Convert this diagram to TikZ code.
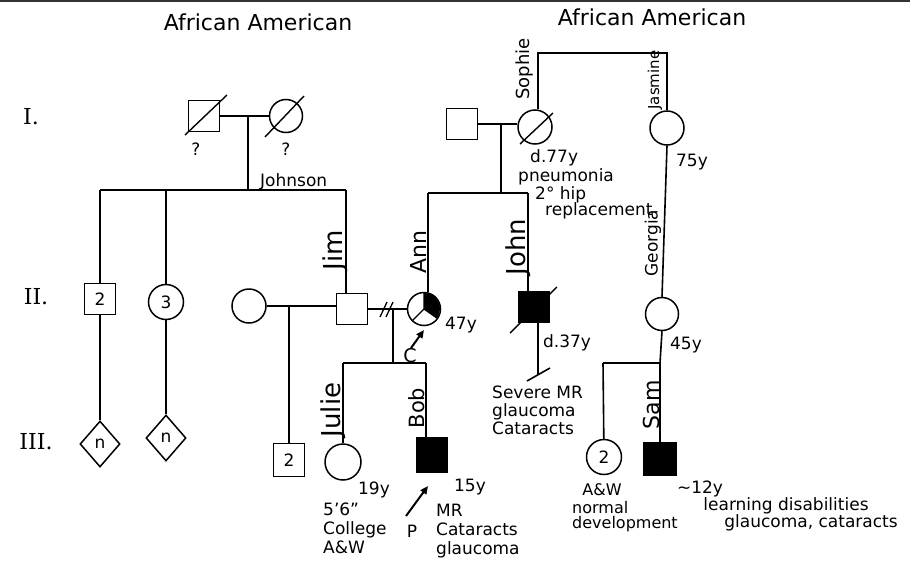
\documentclass[tikz,border=0pt]{standalone}
\usepackage{fontspec}
\setmainfont{DejaVu Sans}
\newfontfamily\genfont{DejaVu Serif}
\usepackage{tikz}
\usetikzlibrary{arrows.meta,shapes.geometric}
\tikzset{
  male/.style={rectangle, draw, line width=1.5pt, minimum size=31pt, inner sep=0pt, font=\fontsize{17}{17}\selectfont},
  female/.style={circle, draw, line width=1.5pt, minimum size=33pt, inner sep=0pt, font=\fontsize{17}{17}\selectfont},
  unk/.style={diamond, draw, line width=1.5pt, minimum width=40pt, minimum height=46pt, inner sep=0pt, font=\fontsize{17}{17}\selectfont},
  aff/.style={fill=black},
  rel/.style={line width=1.6pt},
  dead/.style={line width=1.4pt},
  title/.style={font=\fontsize{22}{22}\selectfont},
  gen/.style={font=\genfont\fontsize{22}{22}\selectfont},
  nm/.style={rotate=90, inner sep=0pt, font=\fontsize{#1}{#1}\selectfont},
  nm/.default=20,
  note/.style={inner sep=0pt, align=left, font=\fontsize{17}{18}\selectfont},
  proband/.style={-{Triangle[length=8pt,width=7pt]}, line width=2pt},
}

\begin{document}
\begin{tikzpicture}[x=1pt, y=-1pt]
\useasboundingbox (0,0) rectangle (910,562);
\draw[line width=1.2pt, black!80] (0,1) -- (910,1);

\node[title] (tl) at (258,22) {African American};
\node[title] (tr) at (652,17) {African American};
\node[gen] (gI) at (31,117) {I.};
\node[gen] (gII) at (36,297) {II.};
\node[gen] (gIII) at (36,442) {III.};

\node[male] (jgf) at (204,116) {};
\node[female] (jgm) at (286,116) {};
\draw[dead] ([shift={(-19,19)}]jgf.center) -- ([shift={(23,-21)}]jgf.center);
\draw[dead] ([shift={(-21,21)}]jgm.center) -- ([shift={(18,-20)}]jgm.center);
\node[note] (jgfq) at (196,149) {?};
\node[note] (jgmq) at (286,149) {?};
\draw[rel] (jgf) -- (jgm);
\coordinate (jmar) at (248,116);
\coordinate (jsib) at (248,190);
\draw[rel] (jmar) -- (jsib);
\coordinate (js1) at (100,190);
\coordinate (js2) at (166,190);
\coordinate (js3) at (346,190);
\draw[rel] (js1) -- (js3);
\node[note, anchor=base west] (johnson) at (260,186) {Johnson};

\node[male] (ii1) at (100,299) {2};
\node[female, minimum size=35pt] (ii2) at (166,302) {3};
\node[unk] (iii1) at (100,444) {n};
\node[unk] (iii2) at (166,438) {n};
\draw[rel] (js1) -- (ii1) (js2) -- (ii2) (ii1) -- (iii1) (ii2) -- (iii2);

\node[female, minimum size=34pt] (jw) at (249,306) {};
\node[male] (jim) at (352,309) {};
\draw[rel] (js3) -- (js3 |- jim.north);
\draw[rel] (jw) -- (jw -| jim.west);
\coordinate (jwm) at (289,306);
\node[male, minimum height=33pt] (hs) at (289,460) {2};
\draw[rel] (jwm) -- (hs);
\node[nm=26] (njim) at (335,250) {Jim};

\node[female] (ann) at (424,309) {};
\fill (ann.center) -- ++(90:16pt) arc[start angle=90, end angle=-35, radius=16pt] -- cycle;
\draw[line width=1.3pt] (ann.center) -- ++(90:16pt) (ann.center) -- ++(-35:16pt) (ann.center) -- ++(225:16pt);
\node[note] (annage) at (461,325) {47y};
\coordinate (as1) at (428,193);
\coordinate (as2) at (528,193);
\draw[rel] (as1) -- (as2);
\draw[rel] (as1) -- (as1 |- ann.north);
\node[nm=22] (nann) at (418,252) {Ann};

\node[male, aff] (john) at (534,307) {};
\draw[rel] (as2) -- (as2 |- john.north);
\draw[dead] ([shift={(-24,26)}]john.center) -- ([shift={(23,-20)}]john.center);
\coordinate (jnl) at (538,375);
\draw[rel] (jnl |- john.south) -- (jnl);
\draw[rel] ([shift={(-11,6)}]jnl) -- ([shift={(12,-7)}]jnl);
\node[nm=26] (njohn) at (518,247) {John};
\node[note] (johnage) at (567,343) {d.37y};
\node[note, anchor=west] (johnnote) at (492,410) {Severe MR\\glaucoma\\Cataracts};

\draw[rel] (jim) -- (ann);
\draw[line width=1.3pt] (380,317) -- (387,302) (386,317) -- (393,302);
\coordinate (jam) at (393,309);
\coordinate (jak) at (393,363);
\draw[rel] (jam) -- (jak);
\coordinate (k1) at (343,363);
\coordinate (k2) at (426,363);
\draw[rel] (k1) -- (k2);
\node[female, minimum size=36pt] (julie) at (343,462) {};
\node[male, aff, minimum height=34pt] (bob) at (432,455) {};
\draw[rel] (k1) -- (julie);
\draw[rel] (k2) -- (k2 |- bob.north);
\node[nm=26] (njulie) at (333,410) {Julie};
\node[nm=21] (nbob) at (417,408) {Bob};
\coordinate (cann) at (424,330);
\draw[proband] (411,348) -- (cann);
\node[note, font=\fontsize{19}{19}\selectfont] (cmark) at (410,356) {C};
\coordinate (pbob) at (428,486);
\draw[proband] (406,516) -- (pbob);
\node[note] (pmark) at (412,531) {P};
\node[note] (julieage) at (374,490) {19y};
\node[note, anchor=west, font=\fontsize{17}{19}\selectfont] (julienote) at (323,528) {5'6"\\College\\A\&W};
\node[note] (bobage) at (470,487) {15y};
\node[note, anchor=west, font=\fontsize{17}{19}\selectfont] (bobnote) at (436,531) {MR\\Cataracts\\glaucoma};

\node[male] (sf) at (462,124) {};
\node[female, minimum size=34pt] (so) at (535,127) {};
\draw[rel] (sf.east) -- (sf.east -| so.west);
\coordinate (sm) at (501,124);
\draw[rel] (sm) -- (sm |- as1);
\draw[dead] ([shift={(-15,17)}]so.center) -- ([shift={(18,-14)}]so.center);
\node[female, minimum size=34pt] (jas) at (667,128) {};
\coordinate (sjl) at (538,53);
\coordinate (sjr) at (667,53);
\draw[rel] (sjl |- so.north) -- (sjl) -- (sjr) -- (jas);
\node[nm=18] (nsophie) at (525,69) {Sophie};
\node[nm=15] (njas) at (655,80) {Jasmine};
\node[note] (jasage) at (692,162) {75y};
\node[note, anchor=west] (so1) at (530,158) {d.77y};
\node[note, anchor=west] (so2) at (518,177) {pneumonia};
\node[note, anchor=west] (so3) at (535,195) {2° hip};
\node[note, anchor=west] (so4) at (545,211) {replacement};

\node[female, minimum size=33pt] (geo) at (662,314) {};
\draw[rel] (jas.south) -- (geo.north);
\node[nm=17] (ngeo) at (653,243) {Georgia};
\node[note] (geoage) at (686,345) {45y};
\coordinate (gm) at (660,363);
\coordinate (gl) at (603,363);
\draw[rel] (geo.south) -- (gm) -- (gl);
\node[female, minimum size=35pt] (gd) at (604,457) {2};
\node[male, aff, minimum size=33pt] (sam) at (660,459) {};
\draw[rel] (gl) -- (gd);
\draw[rel] (gm) -- (sam);
\node[nm=22] (nsam) at (651,405) {Sam};
\node[note, font=\fontsize{16}{16}\selectfont] (gdaw) at (602,490) {A\&W};
\node[note, anchor=west, font=\fontsize{16}{15}\selectfont] (gdnote) at (572,517) {normal\\development};
\node[note] (samage) at (700,489) {\textasciitilde12y};
\node[note] (sam1) at (786,506) {learning disabilities};
\node[note] (sam2) at (811,523) {glaucoma, cataracts};
\end{tikzpicture}
\end{document}
